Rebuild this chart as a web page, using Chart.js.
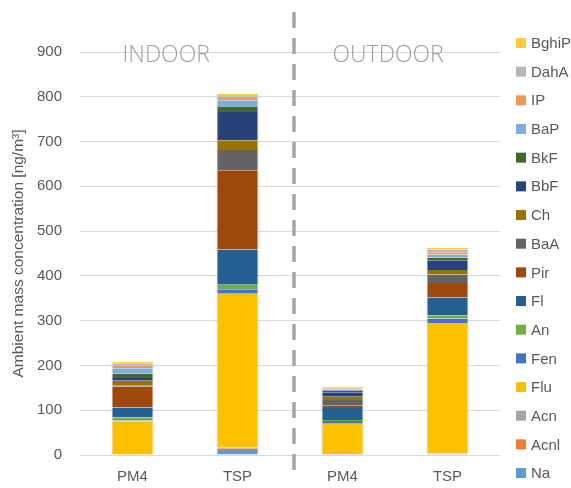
<!DOCTYPE html>
<html>
<head>
<meta charset="utf-8">
<script src="https://cdn.jsdelivr.net/npm/chart.js@4/dist/chart.umd.min.js"></script>
<style>
  html, body { margin:0; padding:0; background:#fff; }
  #wrap { width:571px; height:488px; position:relative; }
</style>
</head>
<body>
<div id="wrap"><canvas id="c" width="571" height="488"></canvas></div>
<script>
// ==== DATA ====
const categories = ["PM4", "TSP", "PM4", "TSP"];
const groups = ["INDOOR", "OUTDOOR"];
const yTicks = [0, 100, 200, 300, 400, 500, 600, 700, 800, 900];

// compounds, bottom of stack first
const compounds = ["Na","Acnl","Acn","Flu","Fen","An","Fl","Pir","BaA","Ch","BbF","BkF","BaP","IP","DahA","BghiP"];
const colors    = ["#5B9BD5","#ED7D31","#A5A5A5","#FFC000","#4472C4","#70AD47","#255E91","#9E480E",
                   "#636363","#997300","#264478","#43682B","#7CAFDD","#F1975A","#B7B7B7","#FFCD33"];

// values per compound: [indoor PM4, indoor TSP, outdoor PM4, outdoor TSP]
const Na    = [1, 11, 2, 2];
const Acnl  = [0, 4, 0, 1];
const Acn   = [0, 2, 0, 1];
const Flu   = [74, 343, 68, 291];
const Fen   = [2, 10, 6, 10];
const An    = [7, 10, 2, 7];
const Fl    = [22, 79, 27, 40];
const Pir   = [47, 177, 5, 32];
const BaA   = [3, 45, 13, 19];
const Ch    = [10, 22, 7, 10];
const BbF   = [6, 63, 10, 22];
const BkF   = [10, 11, 3, 6];
const BaP   = [12, 15, 3, 7];
const IP    = [6, 5, 3, 5];
const DahA  = [4, 4, 2, 6];
const BghiP = [4, 6, 2, 4];
const series = [Na, Acnl, Acn, Flu, Fen, An, Fl, Pir, BaA, Ch, BbF, BkF, BaP, IP, DahA, BghiP];

const FONT = "'Liberation Sans', Arial, sans-serif";
const TXT = "#595959";

// ==== extras: dashed divider, group labels, legend ====
const extras = {
  id: "extras",
  afterDraw(chart){
    const {ctx, scales:{x}} = chart;
    ctx.save();
    // divider
    const mx = (x.getPixelForValue(1) + x.getPixelForValue(2)) / 2 + 4;
    ctx.strokeStyle = "#A6A6A6";
    ctx.lineWidth = 3.5;
    ctx.setLineDash([16, 10]);
    ctx.beginPath();
    ctx.moveTo(mx, 12);
    ctx.lineTo(mx, 480);
    ctx.stroke();
    ctx.setLineDash([]);
    // group labels
    ctx.fillStyle = "#A0A0A0";
    ctx.font = "300 23px 'Open Sans', " + FONT;
    ctx.textAlign = "left";
    ctx.textBaseline = "alphabetic";
    ctx.fillText(groups[0], x.getPixelForValue(0) - 10, 62);
    ctx.fillText(groups[1], x.getPixelForValue(2) - 10, 62);
    // legend (reverse order)
    ctx.font = "15px " + FONT;
    ctx.textBaseline = "middle";
    const ds = chart.data.datasets;
    for(let i=0;i<ds.length;i++){
      const d = ds[ds.length-1-i];
      const cy = 43 + i*28.67;
      ctx.fillStyle = d.backgroundColor;
      ctx.fillRect(516, cy-5, 10, 10);
      ctx.fillStyle = TXT;
      ctx.fillText(d.label, 531, cy+1);
    }
    ctx.restore();
  }
};

new Chart(document.getElementById("c"), {
  type: "bar",
  data: {
    labels: categories,
    datasets: compounds.map((name,i)=>({
      label: name,
      data: series[i],
      backgroundColor: colors[i],
      borderColor: "rgba(190,190,190,0.7)",
      borderWidth: {left:1, right:1, top:0, bottom:0},
      categoryPercentage: 1,
      barPercentage: 0.4
    }))
  },
  options: {
    responsive: false,
    animation: false,
    layout: { padding: { top: 52, right: 71, left: 0, bottom: 0 } },
    plugins: { legend: { display:false }, tooltip: { enabled:false } },
    scales: {
      x: {
        stacked: true,
        grid: { display:false, drawTicks:false },
        border: { display:false },
        ticks: { color: TXT, font: { family: FONT, size: 15 }, padding: 13 },
        afterFit(s){ s.height = 33; }
      },
      y: {
        stacked: true,
        min: 0, max: 900,
        afterBuildTicks(s){ s.ticks = yTicks.map(v=>({value:v})); },
        grid: { color:"#D9D9D9", lineWidth:1, drawTicks:false },
        border: { display:false },
        ticks: { color: TXT, font: { family: FONT, size: 15 }, padding: 18 },
        title: {
          display: true,
          text: "Ambient mass concentration [ng/m³]",
          color: TXT,
          font: { family: FONT, size: 15.5 },
          padding: { top: 9, bottom: 0 }
        },
        afterFit(s){ s.width = 80; }
      }
    }
  },
  plugins: [extras]
});
</script>
</body>
</html>
